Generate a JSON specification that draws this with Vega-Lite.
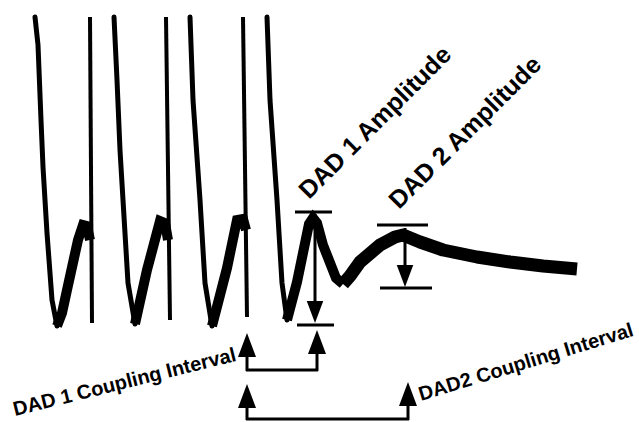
{
  "$schema": "https://vega.github.io/schema/vega-lite/v6.json",
  "width": 639,
  "height": 422,
  "autosize": {"type": "none"},
  "padding": 0,
  "background": "white",
  "config": {"view": {"stroke": null}},
  "datasets": {
    "trace": [
      {"seg": "f1", "part": "fall", "x": 35, "y": 17},
      {"seg": "f1", "part": "fall", "x": 38, "y": 45},
      {"seg": "f1", "part": "fall", "x": 41, "y": 120},
      {"seg": "f1", "part": "fall", "x": 43, "y": 167},
      {"seg": "f1", "part": "fall", "x": 47, "y": 233},
      {"seg": "f1", "part": "fall", "x": 52, "y": 300},
      {"seg": "f1", "part": "fall", "x": 57, "y": 326},
      {"seg": "d1", "part": "dad", "x": 57, "y": 326},
      {"seg": "d1", "part": "dad", "x": 62, "y": 313},
      {"seg": "d1", "part": "dad", "x": 67, "y": 290},
      {"seg": "d1", "part": "dad", "x": 78, "y": 240},
      {"seg": "d1", "part": "dad", "x": 83, "y": 225},
      {"seg": "d1", "part": "dad", "x": 87, "y": 226},
      {"seg": "d1", "part": "dad", "x": 90, "y": 240},
      {"seg": "f2", "part": "fall", "x": 114, "y": 17},
      {"seg": "f2", "part": "fall", "x": 117, "y": 80},
      {"seg": "f2", "part": "fall", "x": 120, "y": 150},
      {"seg": "f2", "part": "fall", "x": 123, "y": 200},
      {"seg": "f2", "part": "fall", "x": 128, "y": 283},
      {"seg": "f2", "part": "fall", "x": 135, "y": 324},
      {"seg": "d2", "part": "dad", "x": 135, "y": 324},
      {"seg": "d2", "part": "dad", "x": 147, "y": 270},
      {"seg": "d2", "part": "dad", "x": 160, "y": 221},
      {"seg": "d2", "part": "dad", "x": 165, "y": 223},
      {"seg": "d2", "part": "dad", "x": 168, "y": 240},
      {"seg": "f3", "part": "fall", "x": 190, "y": 17},
      {"seg": "f3", "part": "fall", "x": 193, "y": 100},
      {"seg": "f3", "part": "fall", "x": 200, "y": 200},
      {"seg": "f3", "part": "fall", "x": 205, "y": 283},
      {"seg": "f3", "part": "fall", "x": 212, "y": 326},
      {"seg": "d3", "part": "dad", "x": 212, "y": 326},
      {"seg": "d3", "part": "dad", "x": 227, "y": 268},
      {"seg": "d3", "part": "dad", "x": 237, "y": 220},
      {"seg": "d3", "part": "dad", "x": 243, "y": 219},
      {"seg": "d3", "part": "dad", "x": 246, "y": 230},
      {"seg": "f4", "part": "fall", "x": 267, "y": 17},
      {"seg": "f4", "part": "fall", "x": 270, "y": 100},
      {"seg": "f4", "part": "fall", "x": 277, "y": 200},
      {"seg": "f4", "part": "fall", "x": 282, "y": 283},
      {"seg": "f4", "part": "fall", "x": 287, "y": 320},
      {"seg": "d4", "part": "dad", "x": 287, "y": 320},
      {"seg": "d4", "part": "dad", "x": 297, "y": 282},
      {"seg": "d4", "part": "dad", "x": 309, "y": 224},
      {"seg": "d4", "part": "dad", "x": 313, "y": 218},
      {"seg": "d4", "part": "dad", "x": 317, "y": 223},
      {"seg": "d4", "part": "dad", "x": 323, "y": 245},
      {"seg": "d4", "part": "dad", "x": 336, "y": 278},
      {"seg": "d4", "part": "dad", "x": 343, "y": 284},
      {"seg": "t4", "part": "tail", "x": 343, "y": 284},
      {"seg": "t4", "part": "tail", "x": 350, "y": 276},
      {"seg": "t4", "part": "tail", "x": 360, "y": 262},
      {"seg": "t4", "part": "tail", "x": 380, "y": 245},
      {"seg": "t4", "part": "tail", "x": 395, "y": 237},
      {"seg": "t4", "part": "tail", "x": 403, "y": 235},
      {"seg": "t4", "part": "tail", "x": 420, "y": 242},
      {"seg": "t4", "part": "tail", "x": 443, "y": 250},
      {"seg": "t4", "part": "tail", "x": 477, "y": 257},
      {"seg": "t4", "part": "tail", "x": 510, "y": 262},
      {"seg": "t4", "part": "tail", "x": 543, "y": 266},
      {"seg": "t4", "part": "tail", "x": 577, "y": 269}
    ],
    "segments": [
      {"kind": "upstroke", "x": 90, "y": 17, "x2": 92, "y2": 323},
      {"kind": "upstroke", "x": 166, "y": 17, "x2": 170, "y2": 320},
      {"kind": "upstroke", "x": 243, "y": 17, "x2": 247, "y2": 317},
      {"kind": "bar", "x": 295, "y": 212, "x2": 332, "y2": 212},
      {"kind": "bar", "x": 297, "y": 325, "x2": 334, "y2": 325},
      {"kind": "shaft", "x": 315, "y": 214, "x2": 315, "y2": 305},
      {"kind": "bar", "x": 377, "y": 225, "x2": 428, "y2": 225},
      {"kind": "bar", "x": 380, "y": 288, "x2": 432, "y2": 288},
      {"kind": "shaft", "x": 405, "y": 228, "x2": 405, "y2": 268},
      {"kind": "shaft", "x": 247, "y": 350, "x2": 247, "y2": 371},
      {"kind": "shaft", "x": 246, "y": 370, "x2": 318, "y2": 370},
      {"kind": "shaft", "x": 317, "y": 350, "x2": 317, "y2": 371},
      {"kind": "shaft", "x": 247, "y": 400, "x2": 247, "y2": 420},
      {"kind": "shaft", "x": 246, "y": 419, "x2": 409, "y2": 419},
      {"kind": "shaft", "x": 408, "y": 400, "x2": 408, "y2": 420}
    ],
    "heads": [
      {"dir": "down", "x": 315, "y": 323},
      {"dir": "down", "x": 405, "y": 287},
      {"dir": "up", "x": 247, "y": 333},
      {"dir": "up", "x": 317, "y": 330},
      {"dir": "up", "x": 247, "y": 384},
      {"dir": "up", "x": 408, "y": 382}
    ],
    "labels": [
      {"label": "DAD 1 Amplitude", "group": "amp", "x": 309, "y": 200},
      {"label": "DAD 2 Amplitude", "group": "amp", "x": 399, "y": 210},
      {"label": "DAD 1 Coupling Interval", "group": "ci1", "x": 15, "y": 416},
      {"label": "DAD2 Coupling Interval", "group": "ci2", "x": 421, "y": 401}
    ]
  },
  "layer": [
    {
      "data": {"name": "trace"},
      "transform": [{"filter": "datum.part === 'fall'"}],
      "mark": {"type": "line", "color": "black", "strokeWidth": 5, "strokeCap": "round", "strokeJoin": "round"},
      "encoding": {
        "x": {"field": "x", "type": "quantitative", "scale": {"domain": [0, 639], "nice": false, "zero": false}, "axis": null},
        "y": {"field": "y", "type": "quantitative", "scale": {"domain": [0, 422], "nice": false, "zero": false, "reverse": true}, "axis": null},
        "detail": {"field": "seg"}
      }
    },
    {
      "data": {"name": "trace"},
      "transform": [{"filter": "datum.part === 'dad'"}],
      "mark": {"type": "line", "color": "black", "strokeWidth": 10, "strokeCap": "butt", "strokeJoin": "miter"},
      "encoding": {
        "x": {"field": "x", "type": "quantitative", "axis": null},
        "y": {"field": "y", "type": "quantitative", "axis": null},
        "detail": {"field": "seg"}
      }
    },
    {
      "data": {"name": "trace"},
      "transform": [{"filter": "datum.part === 'tail'"}],
      "mark": {"type": "line", "color": "black", "strokeWidth": 13, "strokeCap": "butt", "strokeJoin": "round"},
      "encoding": {
        "x": {"field": "x", "type": "quantitative", "axis": null},
        "y": {"field": "y", "type": "quantitative", "axis": null},
        "detail": {"field": "seg"}
      }
    },
    {
      "data": {"name": "segments"},
      "transform": [{"filter": "datum.kind === 'upstroke'"}],
      "mark": {"type": "rule", "color": "black", "strokeWidth": 4},
      "encoding": {
        "x": {"field": "x", "type": "quantitative", "axis": null},
        "y": {"field": "y", "type": "quantitative", "axis": null},
        "x2": {"field": "x2"},
        "y2": {"field": "y2"}
      }
    },
    {
      "data": {"name": "segments"},
      "transform": [{"filter": "datum.kind !== 'upstroke'"}],
      "mark": {"type": "rule", "color": "black", "strokeWidth": 3},
      "encoding": {
        "x": {"field": "x", "type": "quantitative", "axis": null},
        "y": {"field": "y", "type": "quantitative", "axis": null},
        "x2": {"field": "x2"},
        "y2": {"field": "y2"}
      }
    },
    {
      "data": {"name": "heads"},
      "transform": [{"filter": "datum.dir === 'up'"}],
      "mark": {"type": "point", "filled": true, "color": "black", "opacity": 1, "strokeWidth": 0, "size": 576, "shape": "M0,0L0.75,2L-0.75,2Z"},
      "encoding": {
        "x": {"field": "x", "type": "quantitative", "axis": null},
        "y": {"field": "y", "type": "quantitative", "axis": null}
      }
    },
    {
      "data": {"name": "heads"},
      "transform": [{"filter": "datum.dir === 'down'"}],
      "mark": {"type": "point", "filled": true, "color": "black", "opacity": 1, "strokeWidth": 0, "size": 484, "shape": "M0,0L0.75,-2L-0.75,-2Z"},
      "encoding": {
        "x": {"field": "x", "type": "quantitative", "axis": null},
        "y": {"field": "y", "type": "quantitative", "axis": null}
      }
    },
    {
      "data": {"name": "labels"},
      "transform": [{"filter": "datum.group === 'amp'"}],
      "mark": {"type": "text", "align": "left", "baseline": "alphabetic", "angle": -45, "font": "Liberation Sans", "fontSize": 25, "fontWeight": "bold", "color": "black"},
      "encoding": {
        "x": {"field": "x", "type": "quantitative", "axis": null},
        "y": {"field": "y", "type": "quantitative", "axis": null},
        "text": {"field": "label"}
      }
    },
    {
      "data": {"name": "labels"},
      "transform": [{"filter": "datum.group === 'ci1'"}],
      "mark": {"type": "text", "align": "left", "baseline": "alphabetic", "angle": -14, "font": "Liberation Sans", "fontSize": 20, "fontWeight": "bold", "color": "black"},
      "encoding": {
        "x": {"field": "x", "type": "quantitative", "axis": null},
        "y": {"field": "y", "type": "quantitative", "axis": null},
        "text": {"field": "label"}
      }
    },
    {
      "data": {"name": "labels"},
      "transform": [{"filter": "datum.group === 'ci2'"}],
      "mark": {"type": "text", "align": "left", "baseline": "alphabetic", "angle": -17, "font": "Liberation Sans", "fontSize": 20, "fontWeight": "bold", "color": "black"},
      "encoding": {
        "x": {"field": "x", "type": "quantitative", "axis": null},
        "y": {"field": "y", "type": "quantitative", "axis": null},
        "text": {"field": "label"}
      }
    }
  ]
}
